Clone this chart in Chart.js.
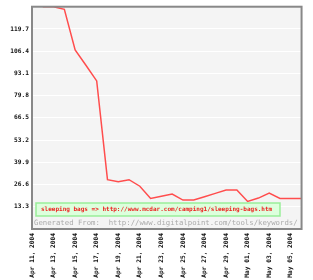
<!DOCTYPE html>
<html>
<head>
<meta charset="utf-8">
<script src="https://cdn.jsdelivr.net/npm/chart.js@4/dist/chart.umd.min.js"></script>
<style>
html, body { margin: 0; padding: 0; background: #fff; }
#wrap { width: 313px; height: 280px; }
</style>
</head>
<body>
<div id="wrap"><canvas id="kw_chart" width="313" height="280"></canvas></div>
<script>
var dates = ["Apr 11, 2004", "Apr 12, 2004", "Apr 13, 2004", "Apr 14, 2004", "Apr 15, 2004",
    "Apr 16, 2004", "Apr 17, 2004", "Apr 18, 2004", "Apr 19, 2004", "Apr 20, 2004",
    "Apr 21, 2004", "Apr 22, 2004", "Apr 23, 2004", "Apr 24, 2004", "Apr 25, 2004",
    "Apr 26, 2004", "Apr 27, 2004", "Apr 28, 2004", "Apr 29, 2004", "Apr 30, 2004",
    "May 01, 2004", "May 02, 2004", "May 03, 2004", "May 04, 2004", "May 05, 2004",
    "May 06, 2004"];
var sleeping_bags = [null, 133, 133, 131.4, 107.2, 98, 88.6, 29.5, 28.3, 29.5,
    25.6, 18.3, 19.6, 20.9, 17.3, 17.3, 19.3, 21.3, 23.3, 23.3,
    16.5, 18.5, 21.5, 18.3, 18.3, 18.3];
var y_ticks = [0, 13.3, 26.6, 39.9, 53.2, 66.5, 79.8, 93.1, 106.4, 119.7, 133];
var legend_text = "sleeping bags => http://www.mcdar.com/camping1/sleeping-bags.htm";
var source_text = "Generated From:  http://www.digitalpoint.com/tools/keywords/";

var mono = "'DejaVu Sans Mono', 'Liberation Mono', monospace";

// plot background, frame, legend box and source line
var framePlugin = {
    id: "frame",
    beforeDraw: function (chart) {
        var ctx = chart.ctx, a = chart.chartArea;
        ctx.save();
        ctx.fillStyle = "#f4f4f4";
        ctx.fillRect(a.left, a.top, a.right - a.left, a.bottom - a.top);
        ctx.restore();
    },
    afterDraw: function (chart) {
        var ctx = chart.ctx, a = chart.chartArea;
        ctx.save();
        // legend box
        ctx.fillStyle = "#ddffdd";
        ctx.fillRect(a.left + 4, a.bottom - 26, 244, 13);
        ctx.strokeStyle = "#99ee99";
        ctx.lineWidth = 1.5;
        ctx.strokeRect(a.left + 4, a.bottom - 26, 244, 13);
        ctx.fillStyle = "#ee2222";
        ctx.font = "bold 6px " + mono;
        ctx.textBaseline = "middle";
        ctx.fillText(legend_text, a.left + 9, a.bottom - 19.5);
        // source line
        ctx.fillStyle = "#aaaaaa";
        ctx.font = "7.3px " + mono;
        ctx.fillText(source_text, a.left + 2, a.bottom - 6);
        // frame
        ctx.strokeStyle = "#888888";
        ctx.lineWidth = 2;
        ctx.strokeRect(a.left, a.top, a.right - a.left, a.bottom - a.top);
        ctx.restore();
    }
};

var ctx = document.getElementById("kw_chart").getContext("2d");
var chart = new Chart(ctx, {
    type: "line",
    data: {
        labels: dates,
        datasets: [{
            label: "sleeping bags",
            data: sleeping_bags,
            borderColor: "#ff4d4d",
            borderWidth: 1.5,
            pointRadius: 0,
            tension: 0,
            fill: false
        }]
    },
    options: {
        responsive: false,
        animation: false,
        layout: { padding: { top: 6, right: 10, left: 0, bottom: 0 } },
        plugins: { legend: { display: false }, tooltip: { enabled: false } },
        scales: {
            x: {
                offset: false,
                grid: { display: false, drawTicks: false },
                border: { display: false },
                afterFit: function (scale) { scale.height = 51; },
                ticks: {
                    autoSkip: false,
                    minRotation: 90,
                    maxRotation: 90,
                    padding: 4,
                    color: "#111",
                    font: { family: mono, size: 6.2, weight: "bold" },
                    callback: function (val, i) { return i % 2 === 0 ? dates[i] : ""; }
                }
            },
            y: {
                min: y_ticks[0],
                max: y_ticks[y_ticks.length - 1],
                grid: { color: "#ffffff", lineWidth: 1, drawTicks: false },
                border: { display: false },
                afterFit: function (scale) { scale.width = 32; },
                afterBuildTicks: function (scale) {
                    scale.ticks = y_ticks.map(function (v) { return { value: v }; });
                },
                ticks: {
                    padding: 3,
                    color: "#111",
                    font: { family: mono, size: 6.2, weight: "bold" },
                    callback: function (val) {
                        return (val <= y_ticks[0] || val >= y_ticks[y_ticks.length - 1]) ? "" : val.toFixed(1);
                    }
                }
            }
        }
    },
    plugins: [framePlugin]
});
</script>
</body>
</html>
